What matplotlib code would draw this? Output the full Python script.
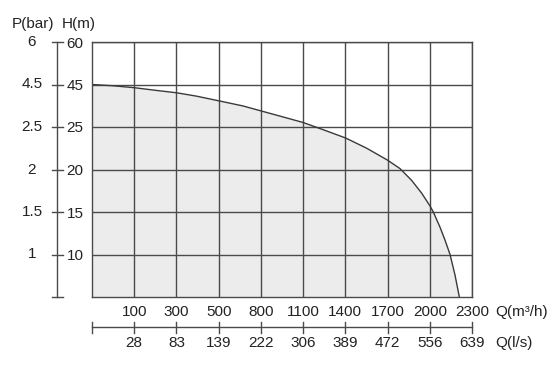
import numpy as np
import matplotlib
matplotlib.use("Agg")
import matplotlib.pyplot as plt
import matplotlib.transforms as mtransforms

plt.rcParams['font.family'] = ['Liberation Sans', 'DejaVu Sans']

# grid positions of the (non-linear) axes
q_grid = [0, 100, 300, 500, 800, 1100, 1400, 1700, 2000, 2300]
q_m3h = [100, 300, 500, 800, 1100, 1400, 1700, 2000, 2300]
q_ls = [28, 83, 139, 222, 306, 389, 472, 556, 639]
h_grid = [5, 10, 15, 20, 25, 45, 60]
h_ticks = [10, 15, 20, 25, 45, 60]
p_ticks = ["1", "1.5", "2", "2.5", "4.5", "6"]

# pump curve (Q in m3/h, H in m)
curve_q = [0, 50, 100, 206, 301, 396, 502, 673, 794, 948, 1101, 1256, 1403,
           1552, 1700, 1789, 1872, 1943, 2002, 2025, 2073, 2108, 2144,
           2179, 2210]
curve_h = [45, 44.4, 43.5, 42.2, 41.1, 39.5, 37.3, 34.9, 32.7, 29.9, 27.1,
           24.6, 23.7, 22.5, 21.1, 20.1, 18.7, 17.2, 15.7, 15, 13.2,
           11.7, 10, 7.6, 5]

qi = np.arange(len(q_grid), dtype=float)
hi = np.arange(len(h_grid), dtype=float)

def xf(v):
    return np.interp(v, q_grid, qi)
def xb(v):
    return np.interp(v, qi, q_grid)
def yf(v):
    return np.interp(v, h_grid, hi)
def yb(v):
    return np.interp(v, hi, h_grid)

W, H = 560, 365
fig = plt.figure(figsize=(W / 100, H / 100), dpi=100)
L, R, T, B = 92, 472, 42, 297
ax = fig.add_axes([L / W, 1 - B / H, (R - L) / W, (B - T) / H])
ax.set_xscale('function', functions=(xf, xb))
ax.set_yscale('function', functions=(yf, yb))
ax.set_xlim(0, 2300)
ax.set_ylim(5, 60)

gc = '#4a4a4a'
tc = '#222222'
fs = 11

ax.fill_between(curve_q, 5, curve_h, color='#ececec', zorder=1, lw=0)
ax.plot(curve_q, curve_h, color='#3a3a3a', lw=1.0, zorder=3)

ax.set_xticks(q_m3h)
ax.set_xticklabels([str(v) for v in q_m3h], fontsize=fs, color=tc)
ax.set_yticks(h_ticks)
ax.set_yticklabels([str(v) for v in h_ticks], fontsize=fs, color=tc)
ax.xaxis.set_minor_locator(matplotlib.ticker.NullLocator())
ax.yaxis.set_minor_locator(matplotlib.ticker.NullLocator())
ax.tick_params(axis='x', length=0, pad=6)
ax.tick_params(axis='y', length=0, pad=6)
ax.grid(True, color=gc, lw=1.0, zorder=2)
ax.set_axisbelow(False)
for s in ax.spines.values():
    s.set_color(gc)
    s.set_linewidth(1.0)
    s.set_zorder(4)

# left pressure axis
tr_y = mtransforms.blended_transform_factory(ax.transAxes, ax.transData)
ax_w = R - L
ax_h = B - T
lx = (57 - L) / ax_w
ax.plot([lx, lx], [5, 60], transform=tr_y, color=gc, lw=1.0, clip_on=False)
tk = 5.5 / ax_w
for yv in h_ticks + [5]:
    ax.plot([lx - tk, lx + tk], [yv, yv], transform=tr_y, color=gc, lw=1.0,
            clip_on=False)
px = (32 - L) / ax_w
for yv, lab in zip(h_ticks, p_ticks):
    ax.text(px, yv, lab, transform=tr_y, ha='center', va='center',
            fontsize=fs, color=tc)

# headers
fig.text(33 / W, 1 - 24 / H, "P(bar)", ha='center', va='center', fontsize=fs, color=tc)
fig.text(79 / W, 1 - 24 / H, "H(m)", ha='center', va='center', fontsize=fs, color=tc)

# second Q axis (l/s)
tr_x = mtransforms.blended_transform_factory(ax.transData, ax.transAxes)
ly = (B - 327) / ax_h
ax.plot([0, 2300], [ly, ly], transform=tr_x, color=gc, lw=1.0, clip_on=False)
tkh = 5.5 / ax_h
for xv in [0] + q_m3h:
    ax.plot([xv, xv], [ly - tkh, ly + tkh], transform=tr_x, color=gc, lw=1.0,
            clip_on=False)
lly = (B - 343) / ax_h
for xv, lab in zip(q_m3h, q_ls):
    ax.text(xv, lly, str(lab), transform=tr_x, ha='center', va='center',
            fontsize=fs, color=tc)

fig.text(495 / W, 1 - 312 / H, "Q(m³/h)", ha='left', va='center', fontsize=fs, color=tc)
fig.text(495 / W, 1 - 343 / H, "Q(l/s)", ha='left', va='center', fontsize=fs, color=tc)

fig.savefig("out.png", dpi=100)
